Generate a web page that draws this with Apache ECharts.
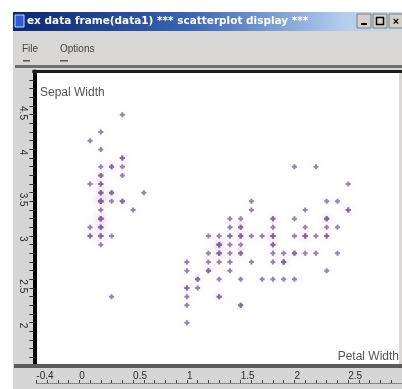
<!DOCTYPE html>
<html>
<head>
<meta charset="utf-8">
<script src="https://cdn.jsdelivr.net/npm/echarts@6/dist/echarts.min.js"></script>
<style>
  html, body { margin: 0; padding: 0; background: #fff; }
  #c { width: 402px; height: 389px; }
</style>
</head>
<body>
<div id="c"></div>
<script>
// Iris measurements: petal width (x) against sepal width (y), by species.
const setosaPetalWidth = [0.2,0.2,0.2,0.2,0.2,0.4,0.3,0.2,0.2,0.1,0.2,0.2,0.1,0.1,0.2,0.4,0.4,0.3,0.3,0.3,0.2,0.4,0.2,0.5,0.2,0.2,0.4,0.2,0.2,0.2,0.2,0.4,0.1,0.2,0.2,0.2,0.2,0.1,0.2,0.2,0.3,0.3,0.2,0.6,0.4,0.3,0.2,0.2,0.2,0.2];
const setosaSepalWidth = [3.5,3.0,3.2,3.1,3.6,3.9,3.4,3.4,2.9,3.1,3.7,3.4,3.0,3.0,4.0,4.4,3.9,3.5,3.8,3.8,3.4,3.7,3.6,3.3,3.4,3.0,3.4,3.5,3.4,3.2,3.1,3.4,4.1,4.2,3.1,3.2,3.5,3.6,3.0,3.4,3.5,2.3,3.2,3.5,3.8,3.0,3.8,3.2,3.7,3.3];
const versicolorPetalWidth = [1.4,1.5,1.5,1.3,1.5,1.3,1.6,1.0,1.3,1.4,1.0,1.5,1.0,1.4,1.3,1.4,1.5,1.0,1.5,1.1,1.8,1.3,1.5,1.2,1.3,1.4,1.4,1.7,1.5,1.0,1.1,1.0,1.2,1.6,1.5,1.6,1.5,1.3,1.3,1.3,1.2,1.4,1.2,1.0,1.3,1.2,1.3,1.3,1.1,1.3];
const versicolorSepalWidth = [3.2,3.2,3.1,2.3,2.8,2.8,3.3,2.4,2.9,2.7,2.0,3.0,2.2,2.9,2.9,3.1,3.0,2.7,2.2,2.5,3.2,2.8,2.5,2.8,2.9,3.0,2.8,3.0,2.9,2.6,2.4,2.4,2.7,2.7,3.0,3.4,3.1,2.3,3.0,2.5,2.6,3.0,2.6,2.3,2.7,3.0,2.9,2.9,2.5,2.8];
const virginicaPetalWidth = [2.5,1.9,2.1,1.8,2.2,2.1,1.7,1.8,1.8,2.5,2.0,1.9,2.1,2.0,2.4,2.3,1.8,2.2,2.3,1.5,2.3,2.0,2.0,1.8,2.1,1.8,1.8,1.8,2.1,1.6,1.9,2.0,2.2,1.5,1.4,2.3,2.4,1.8,1.8,2.1,2.4,2.3,1.9,2.3,2.5,2.3,1.9,2.0,2.3,1.8];
const virginicaSepalWidth = [3.3,2.7,3.0,2.9,3.0,3.0,2.5,2.9,2.5,3.6,3.2,2.7,3.0,2.5,2.8,3.2,3.0,3.8,2.6,2.2,3.2,2.8,2.8,2.7,3.3,3.2,2.8,3.0,2.8,3.0,2.8,3.8,2.8,2.8,2.6,3.0,3.4,3.1,3.0,3.1,3.1,3.1,2.7,3.2,3.3,3.0,2.5,3.0,3.4,3.0];

// Labelled tick values on each axis.
const xTickValues = [-0.4, 0, 0.5, 1, 1.5, 2, 2.5];
const xTickLabels = ['-0.4', '0', '0.5', '1', '1.5', '2', '2.5'];
const yTickValues = [2, 2.5, 3, 3.5, 4, 4.5];
const yTickLabels = ['2', '2.5', '3', '3.5', '4', '4.5'];

const windowTitle = 'ex data frame(data1) *** scatterplot display ***';
const menuItems = ['File', 'Options'];
const xAxisName = 'Petal Width';
const yAxisName = 'Sepal Width';

function pairs(xs, ys) { return xs.map((x, i) => [x, ys[i]]); }
const points = [].concat(
  pairs(setosaPetalWidth, setosaSepalWidth),
  pairs(versicolorPetalWidth, versicolorSepalWidth),
  pairs(virginicaPetalWidth, virginicaSepalWidth)
);

function labelFor(values, texts) {
  return function (v) {
    for (let i = 0; i < values.length; i++) {
      if (Math.abs(v - values[i]) < 1e-6) return texts[i];
    }
    return '';
  };
}

const FONT = 'Liberation Sans, Arial, sans-serif';
const chrome = '#d9d7d3';

const chart = echarts.init(document.getElementById('c'), null, { renderer: 'canvas' });
chart.setOption({
  backgroundColor: '#ffffff',
  animation: false,
  grid: {
    left: 36.3, right: -0.9, top: 71.4, bottom: 23,
    show: true, backgroundColor: '#ffffff', borderWidth: 0
  },
  xAxis: [{
    type: 'value', min: -0.4, max: 3.0, interval: 0.1,
    axisLine: { show: true, onZero: false, lineStyle: { color: '#5c5c5c', width: 4 } },
    axisTick: { show: false },
    splitLine: { show: false },
    axisLabel: {
      formatter: labelFor(xTickValues, xTickLabels),
      align: 'left', verticalAlign: 'top', margin: 5,
      fontFamily: FONT, fontSize: 10, color: '#2a2a2a',
      showMinLabel: true, showMaxLabel: false
    }
  }, {
    type: 'value', min: -0.4, max: 3.0, interval: 0.1,
    position: 'bottom', offset: 17,
    axisLine: { show: true, onZero: false, lineStyle: { color: '#777', width: 1, type: 'dotted' } },
    axisTick: { show: true, inside: true, length: 3, lineStyle: { color: '#444' } },
    axisLabel: { show: false },
    splitLine: { show: false }
  }],
  yAxis: {
    type: 'value', min: 1.5, max: 4.9, interval: 0.1, offset: 2,
    axisLine: { show: true, onZero: false, lineStyle: { color: '#000', width: 4 } },
    axisTick: { show: true, length: 5, lineStyle: { color: '#333' } },
    splitLine: { show: false },
    axisLabel: {
      formatter: labelFor(yTickValues, yTickLabels),
      rotate: -90, align: 'left', verticalAlign: 'middle', margin: 12,
      fontFamily: FONT, fontSize: 10, color: '#2a2a2a',
      showMinLabel: false, showMaxLabel: false
    }
  },
  series: [{
    type: 'scatter',
    data: points,
    symbol: 'path://M1.5 0h2v1.5h1.5v2h-1.5v1.5h-2v-1.5h-1.5v-2h1.5z',
    symbolSize: 5,
    itemStyle: {
      color: '#7a6890',
      shadowBlur: 6,
      shadowColor: 'rgba(226,160,236,0.45)'
    },
    z: 5
  }],
  graphic: [
    // window body
    { type: 'rect', z: -20, shape: { x: 13, y: 12, width: 389, height: 377 }, style: { fill: chrome } },
    { type: 'rect', z: -19, shape: { x: 13, y: 366, width: 389, height: 23 }, style: { fill: '#d6d6d6' } },
    { type: 'rect', z: -19, shape: { x: 13, y: 70, width: 20, height: 296 }, style: { fill: '#d6d6d6' } },
    // title bar
    { type: 'rect', z: 50, shape: { x: 13, y: 12, width: 389, height: 19 },
      style: { fill: new echarts.graphic.LinearGradient(0, 0, 1, 0, [
        { offset: 0, color: '#0c2670' }, { offset: 0.45, color: '#3a64b0' },
        { offset: 0.85, color: '#b4cdee' }, { offset: 1, color: '#c9d9ee' }]) } },
    { type: 'rect', z: 51, shape: { x: 15, y: 15, width: 9, height: 12 }, style: { fill: '#2a5cd8', stroke: '#c8d8ff', lineWidth: 1 } },
    { type: 'text', z: 51, style: { x: 27, y: 21.5, text: windowTitle, fill: '#ffffff',
      font: 'bold 10.5px DejaVu Sans, sans-serif', textVerticalAlign: 'middle' } },
    // caption buttons
    { type: 'rect', z: 51, shape: { x: 357, y: 14, width: 14, height: 14 }, style: { fill: '#d4d0c8', stroke: '#808080', lineWidth: 1 } },
    { type: 'rect', z: 52, shape: { x: 361, y: 23, width: 6, height: 2 }, style: { fill: '#000' } },
    { type: 'rect', z: 51, shape: { x: 373, y: 14, width: 14, height: 14 }, style: { fill: '#d4d0c8', stroke: '#808080', lineWidth: 1 } },
    { type: 'rect', z: 52, shape: { x: 376.5, y: 17.5, width: 7, height: 7 }, style: { fill: 'none', stroke: '#000', lineWidth: 1.5 } },
    { type: 'rect', z: 51, shape: { x: 389, y: 14, width: 14, height: 14 }, style: { fill: '#d4d0c8', stroke: '#808080', lineWidth: 1 } },
    { type: 'text', z: 52, style: { x: 396, y: 21.5, text: '×', fill: '#000', font: 'bold 11px ' + FONT, textAlign: 'center', textVerticalAlign: 'middle' } },
    // menu bar
    { type: 'text', z: 51, style: { x: 22, y: 49, text: menuItems[0], fill: '#444', font: '10px ' + FONT, textVerticalAlign: 'middle' } },
    { type: 'text', z: 51, style: { x: 60, y: 49, text: menuItems[1], fill: '#444', font: '10px ' + FONT, textVerticalAlign: 'middle' } },
    { type: 'rect', z: 51, shape: { x: 23, y: 60, width: 7, height: 1.5 }, style: { fill: '#555' } },
    { type: 'rect', z: 51, shape: { x: 60, y: 60, width: 8, height: 1.5 }, style: { fill: '#555' } },
    // separator and plot frame
    { type: 'rect', z: 51, shape: { x: 15, y: 65, width: 387, height: 3 }, style: { fill: '#6e6e6e' } },
    { type: 'rect', z: 51, shape: { x: 32.3, y: 70, width: 370, height: 3 }, style: { fill: '#1c1c1c' } },
    { type: 'rect', z: 51, shape: { x: 14, y: 364, width: 22.3, height: 4 }, style: { fill: '#5c5c5c' } },
    { type: 'rect', z: 51, shape: { x: 399.5, y: 73, width: 1, height: 291 }, style: { fill: '#b8b8b8' } },
    { type: 'rect', z: 51, shape: { x: 400.5, y: 73, width: 2, height: 291 }, style: { fill: chrome } },
    // axis titles inside the plot
    { type: 'text', z: 51, style: { x: 40, y: 93, text: yAxisName, fill: '#555', font: '12px ' + FONT, textVerticalAlign: 'middle' } },
    { type: 'text', z: 51, style: { x: 399, y: 357, text: xAxisName, fill: '#555', font: '12px ' + FONT, textAlign: 'right', textVerticalAlign: 'middle' } }
  ]
});
</script>
</body>
</html>
